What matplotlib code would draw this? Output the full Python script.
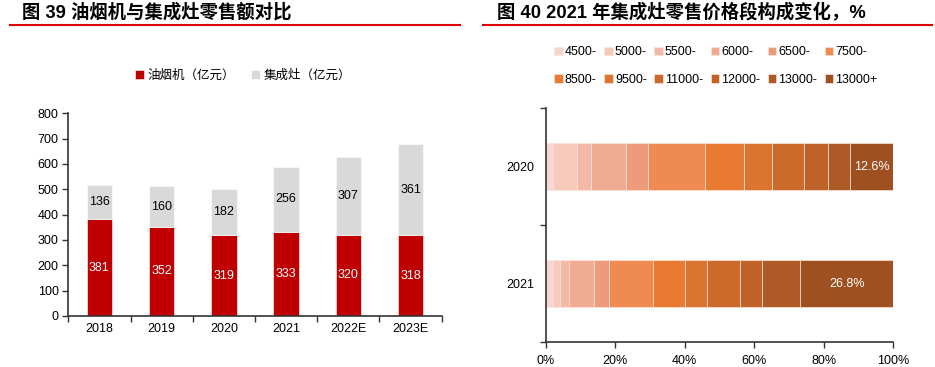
import matplotlib
matplotlib.use("Agg")
import matplotlib.pyplot as plt
import numpy as np

plt.rcParams['font.family'] = ['Liberation Sans', 'Noto Sans CJK SC', 'DejaVu Sans']

# ---------------- data ----------------
years = ['2018', '2019', '2020', '2021', '2022E', '2023E']
hood = [381, 352, 319, 333, 320, 318]          # 油烟机（亿元）
stove = [136, 160, 182, 256, 307, 361]         # 集成灶（亿元）
left_series = ['油烟机（亿元）', '集成灶（亿元）']
left_yticks = [0, 100, 200, 300, 400, 500, 600, 700, 800]

bands = ['4500-', '5000-', '5500-', '6000-', '6500-', '7500-',
         '8500-', '9500-', '11000-', '12000-', '13000-', '13000+']
share_years = ['2020', '2021']
share_2020 = [2.2, 6.8, 4.1, 9.9, 6.5, 16.4, 11.2, 8.0, 9.3, 6.7, 6.3, 12.6]
share_2021 = [2.2, 2.0, 2.6, 7.2, 4.3, 12.7, 9.1, 6.3, 9.4, 6.3, 11.1, 26.8]
right_xticks = [0, 20, 40, 60, 80, 100]

red = '#C00000'
grey = '#D9D9D9'
band_colors = ['#F8D6CD', '#F6C9BA', '#F3B9A6', '#F0AC92', '#EE9B7A', '#EE8A52',
               '#E87A31', '#DA742E', '#CC6A2C', '#BF6228', '#AE5A26', '#9E5020']
spine_c = '#333333'
fs = 9

fig = plt.figure(figsize=(9.35, 3.67), dpi=100)

# ---------------- titles ----------------
fig.text(22.5/935, 1-12/367, '图 39 油烟机与集成灶零售额对比', fontsize=13.2,
         fontweight='bold', va='center', ha='left', color='black')
fig.text(497/935, 1-12/367, '图 40 2021 年集成灶零售价格段构成变化，%', fontsize=13.2,
         fontweight='bold', va='center', ha='left', color='black')
fig.add_artist(plt.Line2D([10/935, 460/935], [1-24.5/367, 1-24.5/367], color='#E00000', lw=1.5))
fig.add_artist(plt.Line2D([483/935, 932/935], [1-24.5/367, 1-24.5/367], color='#E00000', lw=1.5))

# ---------------- left chart ----------------
ax1 = fig.add_axes([68.3/935, 1-316/367, (441.7-68.3)/935, (316-113.3)/367])
x = np.arange(len(years))
w = 0.41
b1 = ax1.bar(x, hood, w, color=red, edgecolor='white', linewidth=0.4, label=left_series[0])
b2 = ax1.bar(x, stove, w, bottom=hood, color=grey, edgecolor='white', linewidth=0.4, label=left_series[1])
for i in range(len(years)):
    ax1.text(x[i], hood[i]/2, str(hood[i]), ha='center', va='center', color='white', fontsize=fs)
    ax1.text(x[i], hood[i] + stove[i]/2, str(stove[i]), ha='center', va='center', color='black', fontsize=fs)
ax1.set_xlim(-0.5, len(years)-0.5)
ax1.set_ylim(0, 800)
ax1.set_yticks(left_yticks)
ax1.set_yticklabels([str(v) for v in left_yticks], fontsize=fs)
ax1.set_xticks(x)
ax1.set_xticklabels(years, fontsize=fs)
ax1.set_xticks(np.arange(-0.5, len(years), 1), minor=True)
ax1.tick_params(axis='x', which='major', length=0, pad=5)
ax1.tick_params(axis='x', which='minor', length=4, width=1, color=spine_c, direction='out')
ax1.tick_params(axis='y', length=4, width=1, color=spine_c, direction='out', pad=3)
for s in ['top', 'right']:
    ax1.spines[s].set_visible(False)
for s in ['left', 'bottom']:
    ax1.spines[s].set_color(spine_c)
    ax1.spines[s].set_linewidth(1.2)
fig.legend(handles=[b1, b2], labels=left_series, loc='center', bbox_to_anchor=(243/935, 1-76/367),
           ncol=2, frameon=False, fontsize=fs, handlelength=0.7, handleheight=0.7,
           handletextpad=0.3, columnspacing=1.3)

# ---------------- right chart ----------------
ax2 = fig.add_axes([545.7/935, 1-342/367, (893.3-545.7)/935, (342-108.3)/367])
shares = [share_2020, share_2021]
ypos = np.arange(len(share_years))
hb = 0.405
handles = []
for j, band in enumerate(bands):
    vals = [s[j] for s in shares]
    lefts = [sum(s[:j]) for s in shares]
    h = ax2.barh(ypos, vals, hb, left=lefts, color=band_colors[j], edgecolor='#FBE3DA',
                 linewidth=0.5, label=band)
    handles.append(h)
for i, s in enumerate(shares):
    last = s[-1]
    ax2.text(100 - last/2, ypos[i], f'{last:.1f}%', ha='center', va='center', color='white', fontsize=fs)
ax2.set_ylim(len(share_years)-0.5, -0.5)
ax2.set_xlim(0, 100)
ax2.set_yticks(ypos)
ax2.set_yticklabels(share_years, fontsize=fs)
ax2.set_yticks(np.arange(-0.5, len(share_years), 1), minor=True)
ax2.tick_params(axis='y', which='major', length=0, pad=8)
ax2.tick_params(axis='y', which='minor', length=4, width=1, color=spine_c, direction='out')
ax2.set_xticks(right_xticks)
ax2.set_xticklabels([f'{v}%' for v in right_xticks], fontsize=fs)
ax2.tick_params(axis='x', length=4, width=1, color=spine_c, direction='out', pad=5)
for s in ['top', 'right']:
    ax2.spines[s].set_visible(False)
for s in ['left', 'bottom']:
    ax2.spines[s].set_color(spine_c)
    ax2.spines[s].set_linewidth(1.2)

order = []
for c in range(6):
    order += [c, c + 6]
fig.legend(handles=[handles[k] for k in order], labels=[bands[k] for k in order],
           loc='upper left', bbox_to_anchor=(543/935, 1-35/367), ncol=6, frameon=False,
           fontsize=fs, handlelength=0.7, handleheight=0.7, handletextpad=0.15,
           columnspacing=0.6, labelspacing=1.25)

fig.savefig('out.png', dpi=100)
